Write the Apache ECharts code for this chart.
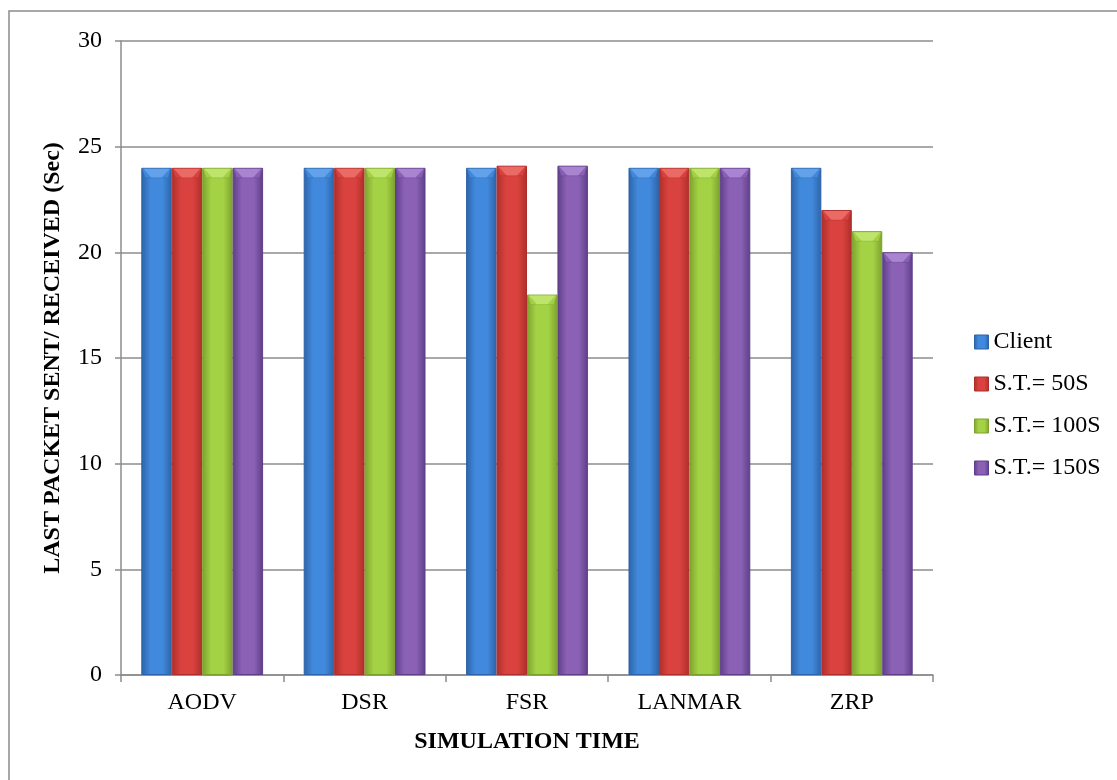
<!DOCTYPE html>
<html>
<head>
<meta charset="utf-8">
<script src="https://cdn.jsdelivr.net/npm/echarts@6/dist/echarts.min.js"></script>
<style>
  html, body { margin: 0; padding: 0; background: #fff; }
  #chart { width: 1117px; height: 780px; }
</style>
</head>
<body>
<div id="chart"></div>
<script>
// Protocols on the x axis
const categories = ['AODV', 'DSR', 'FSR', 'LANMAR', 'ZRP'];

// Time of last packet sent/received (Sec)
const client = [24, 24, 24, 24, 24];
const st50   = [24, 24, 24.1, 24, 22];
const st100  = [24, 24, 18, 24, 21];
const st150  = [24, 24, 24.1, 24, 20];

const seriesNames = ['Client', 'S.T.= 50S', 'S.T.= 100S', 'S.T.= 150S'];
const yTicks = { min: 0, max: 30, interval: 5 };

// edge / centre / highlight shades for a rounded, bevelled bar look
const palette = [
  ['#2d63a8', '#4189dc', '#6aa6ec'],
  ['#ad2e2a', '#d9423e', '#ec716d'],
  ['#7ca22e', '#a4d245', '#c4e872'],
  ['#5e3e88', '#8a61b5', '#ae8bd6']
];

const CAT_GAP = 0.25;   // share of each category left empty

function barFill(c) {
  return new echarts.graphic.LinearGradient(0, 0, 1, 0, [
    { offset: 0, color: c[0] },
    { offset: 0.3, color: c[1] },
    { offset: 0.7, color: c[1] },
    { offset: 1, color: c[0] }
  ]);
}

const chart = echarts.init(document.getElementById('chart'));
const font = '"Liberation Serif", "Times New Roman", serif';

const data = [client, st50, st100, st150];

// Bar series
const barSeries = seriesNames.map((name, i) => ({
  name: name,
  type: 'bar',
  data: data[i],
  barGap: '0%',
  barCategoryGap: (CAT_GAP * 100) + '%',
  itemStyle: {
    color: barFill(palette[i]),
    borderColor: palette[i][0],
    borderWidth: 1
  }
}));

// Bevelled caps drawn on top of each bar, positioned from the axis scales
const capSeries = seriesNames.map((name, i) => ({
  type: 'custom',
  silent: true,
  z: 3,
  data: data[i].map((v, k) => [k, v]),
  renderItem: function (params, api) {
    const k = api.value(0), v = api.value(1);
    const top = api.coord([k, v]);
    const band = api.size([1, 0])[0];
    const groupW = band * (1 - CAT_GAP);
    const w = groupW / seriesNames.length;
    const x0 = top[0] - groupW / 2 + i * w;
    const x1 = x0 + w;
    const y = top[1];
    const h = 10;
    return {
      type: 'group',
      children: [
        {
          type: 'polygon',
          shape: { points: [[x0 + 1, y + 1], [x1 - 1, y + 1], [x1 - 4, y + h], [x0 + 4, y + h]] },
          style: { fill: palette[i][1], opacity: 0.9 }
        },
        {
          type: 'polygon',
          shape: { points: [[x0 + 2, y + 1], [x1 - 2, y + 1], [(x0 + x1) / 2 + 5, y + h], [(x0 + x1) / 2 - 5, y + h]] },
          style: { fill: palette[i][2], opacity: 0.85 }
        },
        {
          type: 'line',
          shape: { x1: x0 + 4, y1: y + h, x2: x1 - 4, y2: y + h },
          style: { stroke: palette[i][0], lineWidth: 1, opacity: 0.35 }
        }
      ]
    };
  }
}));

chart.setOption({
  animation: false,
  textStyle: { fontFamily: font },
  graphic: [
    { type: 'polyline', shape: { points: [[9, 780], [9, 11], [1117, 11]] },
      style: { stroke: '#8c8c8c', lineWidth: 1.5, fill: null } }
  ],
  grid: { left: 121, right: 184, top: 41, bottom: 105 },
  legend: {
    orient: 'vertical',
    left: 969,
    top: 325,
    itemWidth: 14,
    itemHeight: 14,
    itemGap: 18,
    icon: 'rect',
    textStyle: { fontFamily: font, fontSize: 24, color: '#000' },
    data: seriesNames.map((n, i) => ({ name: n, itemStyle: { color: barFill(palette[i]), borderColor: palette[i][0], borderWidth: 1 } }))
  },
  xAxis: {
    type: 'category',
    data: categories,
    name: 'SIMULATION TIME',
    nameLocation: 'middle',
    nameGap: 55,
    nameTextStyle: { fontFamily: font, fontSize: 24, fontWeight: 'bold', color: '#000' },
    axisLine: { lineStyle: { color: '#8c8c8c', width: 1.5 } },
    axisTick: { show: true, length: 7, lineStyle: { color: '#8c8c8c', width: 1.5 } },
    axisLabel: { fontFamily: font, fontSize: 24, color: '#000', margin: 16 }
  },
  yAxis: {
    type: 'value',
    min: yTicks.min,
    max: yTicks.max,
    interval: yTicks.interval,
    name: 'LAST PACKET SENT/ RECEIVED (Sec)',
    nameLocation: 'middle',
    nameGap: 56,
    nameTextStyle: { fontFamily: font, fontSize: 24, fontWeight: 'bold', color: '#000' },
    axisLine: { show: true, lineStyle: { color: '#8c8c8c', width: 1.5 } },
    axisTick: { show: true, length: 6, lineStyle: { color: '#8c8c8c', width: 1.5 } },
    axisLabel: { fontFamily: font, fontSize: 24, color: '#000', margin: 19 },
    splitLine: { lineStyle: { color: '#8c8c8c', width: 1.5 } }
  },
  series: barSeries.concat(capSeries)
});
</script>
</body>
</html>
